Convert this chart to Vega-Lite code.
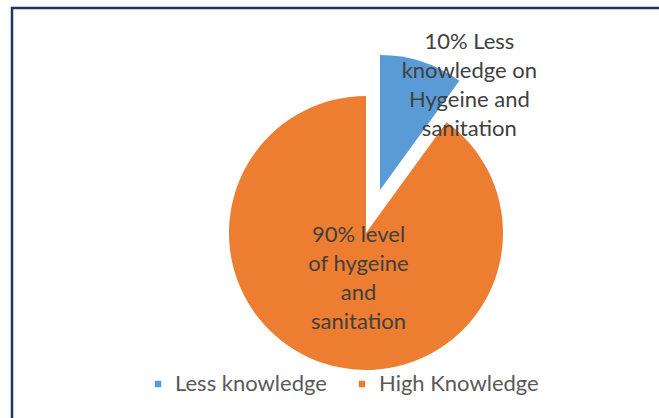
{
  "$schema": "https://vega.github.io/schema/vega-lite/v6.json",
  "width": 660,
  "height": 420,
  "autosize": {"type": "none"},
  "padding": {"left": 12, "top": 8, "right": 0, "bottom": 0},
  "background": "white",
  "view": {"stroke": "#1F3864", "strokeWidth": 2.5, "fill": "white"},
  "config": {
    "font": "Lato"
  },
  "data": {
    "values": [
      {"category": "Less knowledge", "percent": 10, "label": "10% Less\nknowledge on\nHygeine and\nsanitation"},
      {"category": "High Knowledge", "percent": 90, "label": "90% level\nof hygeine\nand\nsanitation"}
    ]
  },
  "encoding": {
    "theta": {"field": "percent", "type": "quantitative", "stack": true},
    "order": {"field": "percent", "type": "quantitative", "sort": "ascending"}
  },
  "layer": [
    {
      "transform": [{"filter": "datum.category === 'High Knowledge'"}],
      "mark": {"type": "arc", "radius": 137, "xOffset": 24, "yOffset": 15},
      "encoding": {
        "theta": {"field": "percent", "type": "quantitative", "stack": true, "scale": {"domain": [0, 90], "range": [0.6283, 6.2832]}},
        "color": {
          "field": "category", "type": "nominal",
          "scale": {"domain": ["Less knowledge", "High Knowledge"], "range": ["#5B9BD5", "#ED7D31"]},
          "legend": {
            "orient": "none", "legendX": 135, "legendY": 365, "direction": "horizontal",
            "title": null, "symbolType": "square", "symbolSize": 42, "symbolStrokeWidth": 0,
            "labelFontSize": 22, "labelColor": "#595959", "labelFont": "Lato",
            "columnPadding": 24, "labelOffset": 6
          }
        }
      }
    },
    {
      "transform": [{"filter": "datum.category === 'Less knowledge'"}],
      "mark": {"type": "arc", "radius": 135, "xOffset": 38, "yOffset": -28},
      "encoding": {
        "theta": {"field": "percent", "type": "quantitative", "stack": true, "scale": {"domain": [0, 10], "range": [0, 0.6283]}},
        "color": {"field": "category", "type": "nominal"}
      }
    },
    {
      "mark": {"type": "text", "radius": 150, "dx": 81, "dy": -33, "fontSize": 22, "lineHeight": 29, "lineBreak": "\n", "color": "#404040", "align": "center", "baseline": "middle"},
      "encoding": {
        "text": {"condition": {"test": "datum.category === 'Less knowledge'", "field": "label"}, "value": ""}
      }
    },
    {
      "mark": {"type": "text", "radius": 47, "dx": 31, "dy": -28, "fontSize": 22, "lineHeight": 29, "lineBreak": "\n", "color": "#404040", "align": "center", "baseline": "middle"},
      "encoding": {
        "text": {"condition": {"test": "datum.category === 'High Knowledge'", "field": "label"}, "value": ""}
      }
    }
  ],
  "resolve": {"scale": {"theta": "independent"}}
}
